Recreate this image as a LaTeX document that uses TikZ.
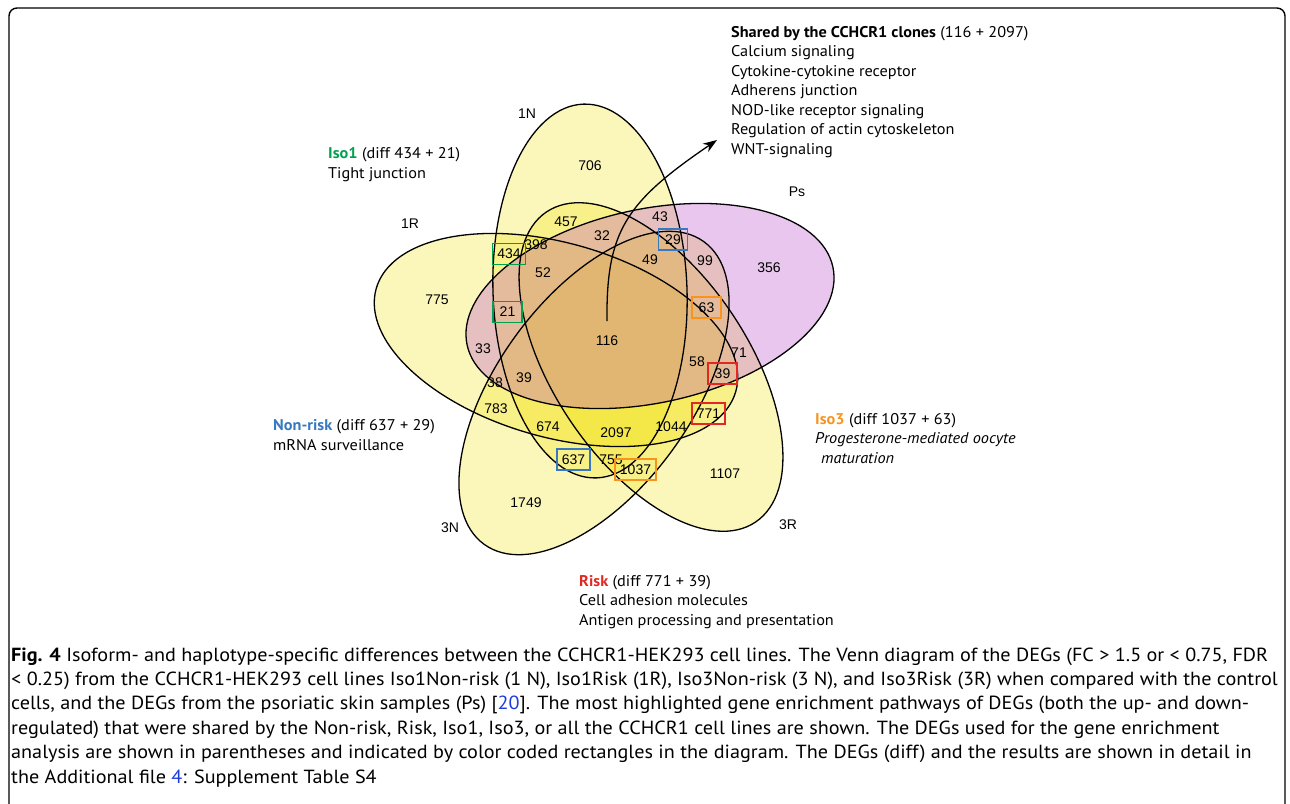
\documentclass[tikz,border=0pt]{standalone}
\usepackage{fontspec}
\setmainfont{PT Sans}[FakeStretch=1.05]
\newfontfamily\numfont{Liberation Sans}
\newfontfamily\capfont{PT Sans}[FakeStretch=1.062]
\usepackage{xcolor}
\usetikzlibrary{arrows.meta}
\definecolor{vyellow}{RGB}{240,222,0}
\definecolor{vpurple}{RGB}{188,82,203}
\definecolor{isogreen}{RGB}{0,160,80}
\definecolor{nrblue}{RGB}{55,120,190}
\definecolor{isoorange}{RGB}{247,148,29}
\definecolor{riskred}{RGB}{225,40,35}
\definecolor{linkblue}{RGB}{30,60,220}
\tikzset{
  num/.style={font=\numfont\fontsize{14}{16}\selectfont, inner sep=1pt},
  hbox/.style={num, draw=#1, line width=1.4pt, inner xsep=5pt, minimum width=29pt, minimum height=21pt},
  anno/.style={font=\fontsize{15.5}{19}\selectfont, anchor=base west, inner sep=0pt},
  capline/.style={font=\capfont\fontsize{19}{24}\selectfont, anchor=base west, inner sep=0pt},
  ell/.style={line width=1.3pt}
}
\begin{document}
\begin{tikzpicture}[x=1pt,y=-1pt]
\useasboundingbox (0,0) rectangle (1290,803);
% Vẽ khung
\draw[line width=1.4pt, rounded corners=8pt] (9,8) rectangle (1285,830);
% Tô màu các elip
\foreach \cx/\cy/\a in {590/291/92, 556/340/-16, 651/367/-56, 594/393/54}
  \fill[vyellow, fill opacity=0.27, rotate around={\a:(\cx,\cy)}] (\cx,\cy) ellipse (187 and 97);
\fill[vpurple, fill opacity=0.33, rotate around={12:(650,306)}] (650,306) ellipse (187 and 97);
% Viền elip
\foreach \cx/\cy/\a in {590/291/92, 556/340/-16, 651/367/-56, 594/393/54, 650/306/12}
  \draw[ell, rotate around={\a:(\cx,\cy)}] (\cx,\cy) ellipse (187 and 97);
% Tên tập
\foreach \t/\x/\y in {1N/527/114, 1R/410/224, Ps/797/192, 3N/450/528, 3R/788/525}
  \node[num] (l\t) at (\x,\y) {\t};
% Ghi số
\foreach \t/\x/\y [count=\i] in {706/590/166, 457/566/222, 398/536/245, 32/602/236, 43/660/217,
  49/650/260, 99/705/261, 356/769/268, 52/543/273, 775/437/300, 116/607/341, 33/483/349,
  58/697/362, 71/739/353, 38/495/383, 39/524/378, 783/496/409, 674/548/427, 2097/616/433,
  1044/671/427, 755/611/460, 1107/725/474, 1749/526/503}
  \node[num] (r\i) at (\x,\y) {\t};
\foreach \t/\x/\y/\c in {434/509/254/isogreen, 21/507.5/312/isogreen, 29/673/239.5/nrblue,
  637/573.5/459.5/nrblue, 63/706.5/307.5/isoorange, 1037/635.5/469.5/isoorange,
  39/722.5/373.5/riskred, 771/708.5/413.5/riskred}
  \node[hbox=\c] (b\t) at (\x,\y) {\t};
% Mũi tên
\coordinate (arrS) at (607,321);
\coordinate (arrE) at (717,140);
\draw[line width=1.3pt, -{Stealth[length=14pt,width=10pt]}] (arrS) .. controls (606,231) and (626,202) .. (arrE);
% Chú thích
\node[anno] (sh0) at (731,37) {\textbf{Shared by the CCHCR1 clones} (116 + 2097)};
\foreach \t [count=\i] in {Calcium signaling, Cytokine-cytokine receptor, Adherens junction,
  NOD-like receptor signaling, Regulation of actin cytoskeleton, WNT-signaling}
  \node[anno] (sh\i) at (731,37+19.55*\i) {\t};
\node[anno] (iso1a) at (328,158) {\textcolor{isogreen}{\textbf{Iso1}} (diff 434 + 21)};
\node[anno] (iso1b) at (328,178) {Tight junction};
\node[anno] (nra) at (273,430) {\textcolor{nrblue}{\textbf{Non-risk}} (diff 637 + 29)};
\node[anno] (nrb) at (273,450) {mRNA surveillance};
\node[anno] (iso3a) at (815,424) {\textcolor{isoorange}{\textbf{Iso3}} (diff 1037 + 63)};
\node[anno] (iso3b) at (815,443) {\textit{Progesterone-mediated oocyte}};
\node[anno] (iso3c) at (821,463) {\textit{maturation}};
\node[anno] (riska) at (579,586) {\textcolor{riskred}{\textbf{Risk}} (diff 771 + 39)};
\node[anno] (riskb) at (579,605) {Cell adhesion molecules};
\node[anno] (riskc) at (579,625) {Antigen processing and presentation};
% Chú thích hình
\foreach \t [count=\i from 0] in {
  {\textbf{Fig. 4} Isoform- and haplotype-specific differences between the CCHCR1-HEK293 cell lines. The Venn diagram of the DEGs (FC > 1.5 or < 0.75, FDR},
  {< 0.25) from the CCHCR1-HEK293 cell lines Iso1Non-risk (1 N), Iso1Risk (1R), Iso3Non-risk (3 N), and Iso3Risk (3R) when compared with the control},
  {cells, and the DEGs from the psoriatic skin samples (Ps) [\textcolor{linkblue}{20}]. The most highlighted gene enrichment pathways of DEGs (both the up- and down-},
  {regulated) that were shared by the Non-risk, Risk, Iso1, Iso3, or all the CCHCR1 cell lines are shown. The DEGs used for the gene enrichment},
  {analysis are shown in parentheses and indicated by color coded rectangles in the diagram. The DEGs (diff) and the results are shown in detail in},
  {the Additional file \textcolor{linkblue}{4}: Supplement Table S4}}
  \node[capline] (cap\i) at (11,661+24.4*\i) {\t};
\end{tikzpicture}
\end{document}
